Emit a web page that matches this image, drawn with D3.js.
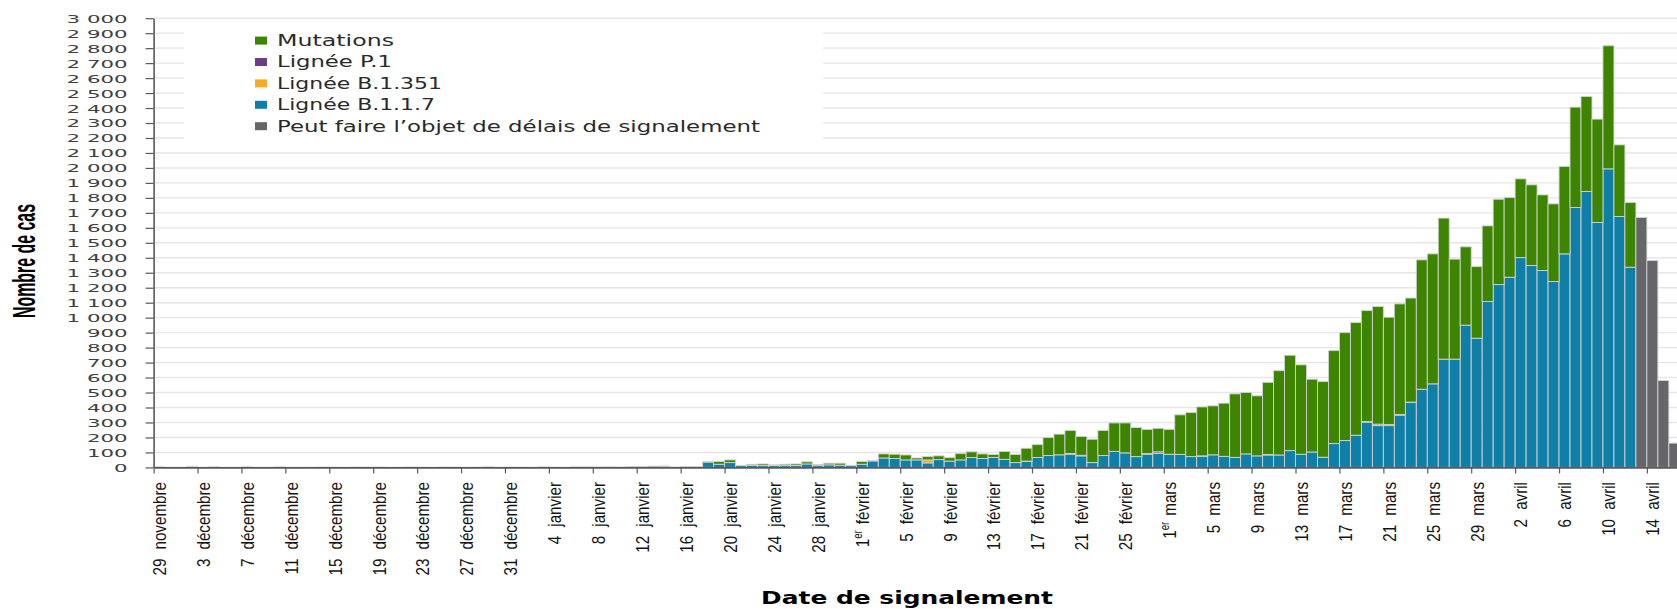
<!DOCTYPE html>
<html><head><meta charset="utf-8">
<script src="https://cdn.jsdelivr.net/npm/d3@7"></script>
<style>body{margin:0;background:#fff}svg{display:block}</style>
</head><body><svg id="c" width="1677" height="609"></svg>
<script>
// ---------- DATA ----------
const startDate = new Date(2020, 10, 29); // 29 novembre
const dayCount = 139;                      // 29 nov -> 16 avril

const b117 = [
  2,1,1,3,1,2,1,1,2,1,
  1,2,1,1,2,1,2,1,1,2,
  1,1,2,1,2,1,1,2,1,2,
  2,1,1,2,1,2,2,1,2,2,
  3,2,3,3,4,8,8,3,4,4,
  35,21,32,12,14,12,12,12,12,23,
  12,17,15,12,21,43,63,59,50,50,
  30,52,42,50,66,59,67,54,32,39,
  66,79,84,88,77,32,79,107,97,72,
  88,94,86,87,72,74,84,74,67,90,
  77,83,83,112,88,103,68,159,179,215,
  302,279,279,349,433,522,558,723,723,950,
  863,1108,1221,1270,1401,1348,1315,1241,1426,1736,
  1843,1636,1994,1676,1337,0,0,0,0
];
const b1351 = [
  0,0,0,0,0,0,0,0,0,0,
  0,0,0,0,0,0,0,0,0,0,
  0,0,0,0,0,0,0,0,0,0,
  0,0,0,0,0,0,0,0,0,0,
  0,0,0,0,0,0,0,0,0,0,
  0,0,0,0,0,0,0,0,0,0,
  0,0,0,0,0,0,0,0,0,0,
  20,0,0,0,0,0,0,0,0,0,
  0,0,0,0,0,0,0,0,0,0,
  0,0,0,0,0,0,0,0,0,0,
  0,0,0,0,0,0,0,0,0,0,
  0,0,0,0,0,0,0,0,0,0,
  0,0,0,0,0,0,0,0,0,0,
  0,0,0,0,0,0,0,0,0
];
const p1 = [
  0,0,0,0,0,0,0,0,0,0,
  0,0,0,0,0,0,0,0,0,0,
  0,0,0,0,0,0,0,0,0,0,
  0,0,0,0,0,0,0,0,0,0,
  0,0,0,0,0,0,0,0,0,0,
  0,0,0,0,0,0,0,0,0,0,
  0,0,0,0,0,0,0,0,0,0,
  0,0,0,0,0,0,0,0,0,3,
  0,0,0,5,4,0,0,0,0,0,
  4,10,2,0,0,3,0,0,0,0,
  0,3,0,0,0,0,0,0,0,0,
  4,10,8,5,3,0,0,0,0,0,
  0,0,0,0,0,0,0,0,0,0,
  0,0,0,0,0,0,0,0,0
];
const mutations = [
  1,0,0,1,0,1,0,0,1,0,
  0,1,0,0,0,1,0,0,1,0,
  1,0,0,1,0,0,1,0,0,0,
  1,0,1,0,0,1,0,0,1,1,
  0,1,0,1,1,0,1,0,1,1,
  3,18,18,2,7,11,5,9,11,14,
  7,11,13,2,18,3,27,29,33,13,
  22,25,23,42,38,31,19,52,54,86,
  86,120,138,153,125,156,167,190,200,194,
  162,157,166,264,294,327,327,355,424,410,
  401,482,563,637,597,486,505,621,721,752,
  741,785,716,738,695,864,868,942,668,523,
  478,505,570,532,526,539,505,519,584,670,
  634,690,822,478,432,0,0,0,0
];
const delay = [
  0,0,0,0,0,0,0,0,0,0,
  0,0,0,0,0,0,0,0,0,0,
  0,0,0,0,0,0,0,0,0,0,
  0,0,0,0,0,0,0,0,0,0,
  0,0,0,0,0,0,0,0,0,0,
  0,0,0,0,0,0,0,0,0,0,
  0,0,0,0,0,0,0,0,0,0,
  0,0,0,0,0,0,0,0,0,0,
  0,0,0,0,0,0,0,0,0,0,
  0,0,0,0,0,0,0,0,0,0,
  0,0,0,0,0,0,0,0,0,0,
  0,0,0,0,0,0,0,0,0,0,
  0,0,0,0,0,0,0,0,0,0,
  0,0,0,0,0,1669,1382,580,162
];

const yTickValues = [0,100,200,300,400,500,600,700,800,900,1000,1100,1200,1300,1400,1500,1600,1700,1800,1900,2000,2100,2200,2300,2400,2500,2600,2700,2800,2900,3000];

const xTickLabels = [
  "29 novembre","3 décembre","7 décembre","11 décembre","15 décembre","19 décembre",
  "23 décembre","27 décembre","31 décembre","4 janvier","8 janvier","12 janvier",
  "16 janvier","20 janvier","24 janvier","28 janvier","1er février","5 février",
  "9 février","13 février","17 février","21 février","25 février","1er mars",
  "5 mars","9 mars","13 mars","17 mars","21 mars","25 mars","29 mars",
  "2 avril","6 avril","10 avril","14 avril"
];
const labelStep = 4;

const seriesKeys   = ["b117","b1351","p1","mut","delay"];
const legendKeys   = ["mut","p1","b1351","b117","delay"];
const legendNames  = {mut:"Mutations", p1:"Lignée P.1", b1351:"Lignée B.1.351", b117:"Lignée B.1.1.7", delay:"Peut faire l’objet de délais de signalement"};

const yTitle = "Nombre de cas";
const xTitle = "Date de signalement";

// ---------- STYLE ----------
const seriesColors = {b117:"#0f7fa8", b1351:"#f7aa28", p1:"#6e3c82", mut:"#3d8500", delay:"#66666a"};
const legendTextWidth = {mut:117, p1:115, b1351:165, b117:158, delay:483};

// ---------- CHART ----------
const svg = d3.select("#c");
const W = 1677;
const x0 = 153.6, step = 10.98;
const yBase = 467.4, yTop = 18.2;

const dates = d3.timeDay.range(startDate, d3.timeDay.offset(startDate, dayCount));
const rows = dates.map((d,i)=>({i, date:d, b117:b117[i], b1351:b1351[i], p1:p1[i], mut:mutations[i], delay:delay[i]}));

const x = d3.scaleBand().domain(rows.map(r=>r.i)).range([x0, x0 + dayCount*step]).paddingInner(0).paddingOuter(0);
const xl = d3.scaleLinear().domain([0, dayCount]).range([x0, x0 + dayCount*step]);
const y = d3.scaleLinear().domain([0,3000]).range([yBase, yTop]);

const fmt = v => v >= 1000 ? Math.floor(v/1000) + " " + String(v%1000).padStart(3,"0") : String(v);

// gridlines
svg.append("g").selectAll("line").data(yTickValues.filter(v=>v>0)).join("line")
  .attr("x1", x0).attr("x2", W).attr("y1", d=>y(d)).attr("y2", d=>y(d))
  .attr("stroke", "#e6e6e6").attr("stroke-width", 1.4);

// legend background (hides gridlines)
svg.append("rect").attr("x", 184).attr("y", 24).attr("width", 639).attr("height", 122).attr("fill", "#fff");

// bars
const stack = d3.stack().keys(seriesKeys)(rows);
const bw = x.bandwidth();
svg.append("g").selectAll("g").data(stack).join("g")
  .attr("fill", d=>seriesColors[d.key])
  .selectAll("rect").data(d=>d.filter(s=>s[1]-s[0]>0)).join("rect")
  .attr("x", d=>x(d.data.i)).attr("width", bw)
  .attr("y", d=>y(d[1])).attr("height", d=>y(d[0])-y(d[1]))
  .attr("stroke", "#d2d2d2").attr("stroke-width", 0.9);

// y axis
const yAxis = svg.append("g").attr("transform", `translate(${x0},0)`)
  .call(d3.axisLeft(y).tickValues(yTickValues).tickSize(8).tickSizeOuter(0).tickFormat(fmt));
yAxis.select(".domain").attr("stroke", "#595959").attr("stroke-width", 1.6);
yAxis.selectAll(".tick line").attr("stroke", "#595959").attr("stroke-width", 1.2);
yAxis.selectAll(".tick text")
  .attr("x", 0).attr("dy", "0.36em")
  .attr("transform", "translate(-26,0) scale(1.94,1)")
  .attr("font-family", "DejaVu Sans").attr("font-size", 11).attr("fill", "#404040")
  .attr("text-anchor", "end");

// x axis
const xTickIdx = xTickLabels.map((_,k)=>k*labelStep);
const xAxis = svg.append("g").attr("transform", `translate(0,${yBase})`)
  .call(d3.axisBottom(xl).tickValues(xTickIdx).tickSize(6).tickSizeOuter(0).tickFormat(""));
xAxis.select(".domain").attr("stroke", "#595959").attr("stroke-width", 1.6);
xAxis.selectAll(".tick line").attr("stroke", "#595959").attr("stroke-width", 1.2);

// x labels
const lab = svg.append("g").selectAll("text").data(xTickLabels).join("text")
  .attr("transform", (d,k)=>`translate(${x(k*labelStep)+bw/2},482) rotate(-90) scale(0.8,1)`)
  .attr("text-anchor", "end").attr("dy", "0.36em")
  .attr("font-family", "Liberation Sans, Arial, sans-serif").attr("font-size", 19).attr("fill", "#141414");
lab.each(function(d){
  const t = d3.select(this);
  const sp = d.indexOf(" ");
  const day = d.slice(0, sp), month = d.slice(sp+1);
  if (day.endsWith("er")) {
    t.append("tspan").text(day.slice(0, -2));
    t.append("tspan").attr("dy", -7).attr("font-size", 12).text("er");
    t.append("tspan").attr("dy", 7).attr("dx", "0.4em").text(month);
  } else {
    t.append("tspan").text(day);
    t.append("tspan").attr("dx", "0.6em").text(month);
  }
});

// legend
const lg = svg.append("g").selectAll("g").data(legendKeys).join("g")
  .attr("transform", (d,k)=>`translate(255,${40.6 + k*21.4})`);
lg.append("rect").attr("x", 0).attr("y", -4).attr("width", 12).attr("height", 8).attr("fill", d=>seriesColors[d]);
lg.append("text").attr("x", 22).attr("dy", "0.36em")
  .attr("font-family", "DejaVu Sans").attr("font-size", 15).attr("fill", "#2a2a2a")
  .attr("textLength", d=>legendTextWidth[d]).attr("lengthAdjust", "spacingAndGlyphs")
  .text(d=>legendNames[d]);

// axis titles
svg.append("text").attr("transform", "translate(35,261) rotate(-90)")
  .attr("text-anchor", "middle").attr("font-family", "Liberation Sans, Arial, sans-serif")
  .attr("font-weight", "bold").attr("font-size", 31).attr("fill", "#000")
  .attr("textLength", 114).attr("lengthAdjust", "spacingAndGlyphs").text(yTitle);

svg.append("text").attr("x", 761).attr("y", 604)
  .attr("font-family", "DejaVu Sans").attr("font-weight", "bold").attr("font-size", 17).attr("fill", "#000")
  .attr("textLength", 292).attr("lengthAdjust", "spacingAndGlyphs").text(xTitle);
</script>
</body></html>
